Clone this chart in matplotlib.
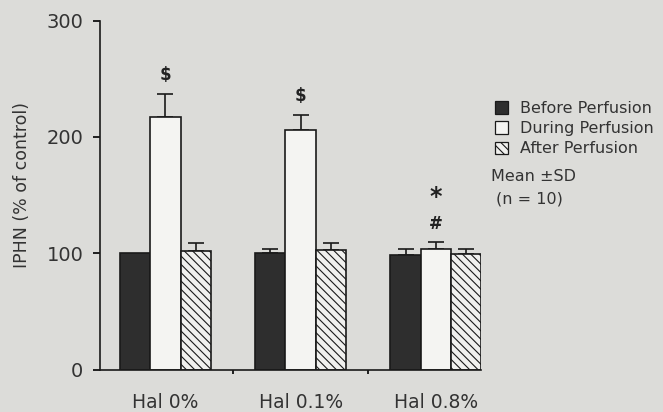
import numpy as np
import matplotlib.pyplot as plt
from matplotlib.patches import Patch

# data
groups = ['Hal 0%', 'Hal 0.1%', 'Hal 0.8%']
series = ['Before Perfusion', 'During Perfusion', 'After Perfusion']
before = [100, 100, 98]
before_sd = [0, 4, 6]
during = [217, 206, 103.5]
during_sd = [20, 13, 6]
after = [102, 102.5, 99]
after_sd = [7, 6, 5]
marks = ['$', '$', '#']
marks_top = ['', '', '*']

bg = '#dcdcd9'
fig = plt.figure(figsize=(6.63, 4.12), dpi=100, facecolor=bg)
ax = fig.add_axes([100 / 663, 1 - 369.5 / 412, 381 / 663, 349 / 412])
ax.set_facecolor(bg)

x = np.arange(len(groups))
w = 0.224
styles = [
    dict(facecolor='#2e2e2e', edgecolor='#1a1a1a'),
    dict(facecolor='#f4f4f2', edgecolor='#1a1a1a'),
    dict(facecolor='#f0f0ee', edgecolor='#1a1a1a', hatch='\\\\\\\\'),
]
vals = [before, during, after]
sds = [before_sd, during_sd, after_sd]

plt.rcParams['hatch.linewidth'] = 0.8
for i in range(3):
    pos = x + (i - 1) * w
    ax.bar(pos, vals[i], width=w, linewidth=1.2, label=series[i], zorder=2, **styles[i])
    sd = np.array(sds[i], dtype=float)
    keep = sd > 0
    ax.errorbar(pos[keep], np.array(vals[i])[keep],
                yerr=[np.zeros(keep.sum()), sd[keep]],
                fmt='none', ecolor='#1a1a1a', elinewidth=1.2, capsize=5.5,
                capthick=1.2, zorder=1)

# significance marks above the during-perfusion bars
for i in range(3):
    top = during[i] + during_sd[i]
    ax.text(x[i], top + 16, marks[i], ha='center', va='center', fontsize=12,
            fontweight='bold', color='#222222')
    if marks_top[i]:
        ax.text(x[i], top + 39, marks_top[i], ha='center', va='center', fontsize=17,
                fontweight='bold', color='#222222')

ax.set_xlim(-0.483, 2.333)
ax.set_ylim(0, 300)
ax.set_yticks([0, 100, 200, 300])
ax.tick_params(axis='y', direction='out', length=5, width=1.2, labelsize=14,
               pad=7, labelcolor='#333333')
ax.set_xticks(x)
ax.set_xticklabels(groups)
ax.tick_params(axis='x', length=0, labelsize=13.5, pad=17, labelcolor='#333333')
ax.set_xticks([0.5, 1.5], minor=True)
ax.tick_params(axis='x', which='minor', direction='out', length=3, width=1.2)

for s in ['top', 'right']:
    ax.spines[s].set_visible(False)
for s in ['left', 'bottom']:
    ax.spines[s].set_linewidth(1.2)
    ax.spines[s].set_color('#1a1a1a')

fig.text(22 / 663, 1 - 185 / 412, 'IPHN (% of control)', rotation=90,
         ha='center', va='center', fontsize=12.5, color='#333333')

# legend and notes on the right
handles = [Patch(label=series[i], linewidth=0.9, **styles[i]) for i in range(3)]
fig.legend(handles=handles, loc='upper left', bbox_to_anchor=(487 / 663, 1 - 93 / 412),
           frameon=False, fontsize=11.5, handlelength=0.8, handleheight=0.8,
           handletextpad=0.75, labelspacing=0.32, borderpad=0, labelcolor='#333333')
fig.text(491 / 663, 1 - 177 / 412, 'Mean \u00b1SD', ha='left', va='center',
         fontsize=11.5, color='#333333')
fig.text(496 / 663, 1 - 199 / 412, '(n = 10)', ha='left', va='center',
         fontsize=11.5, color='#333333')

fig.savefig('out.png', dpi=100, facecolor=bg)
